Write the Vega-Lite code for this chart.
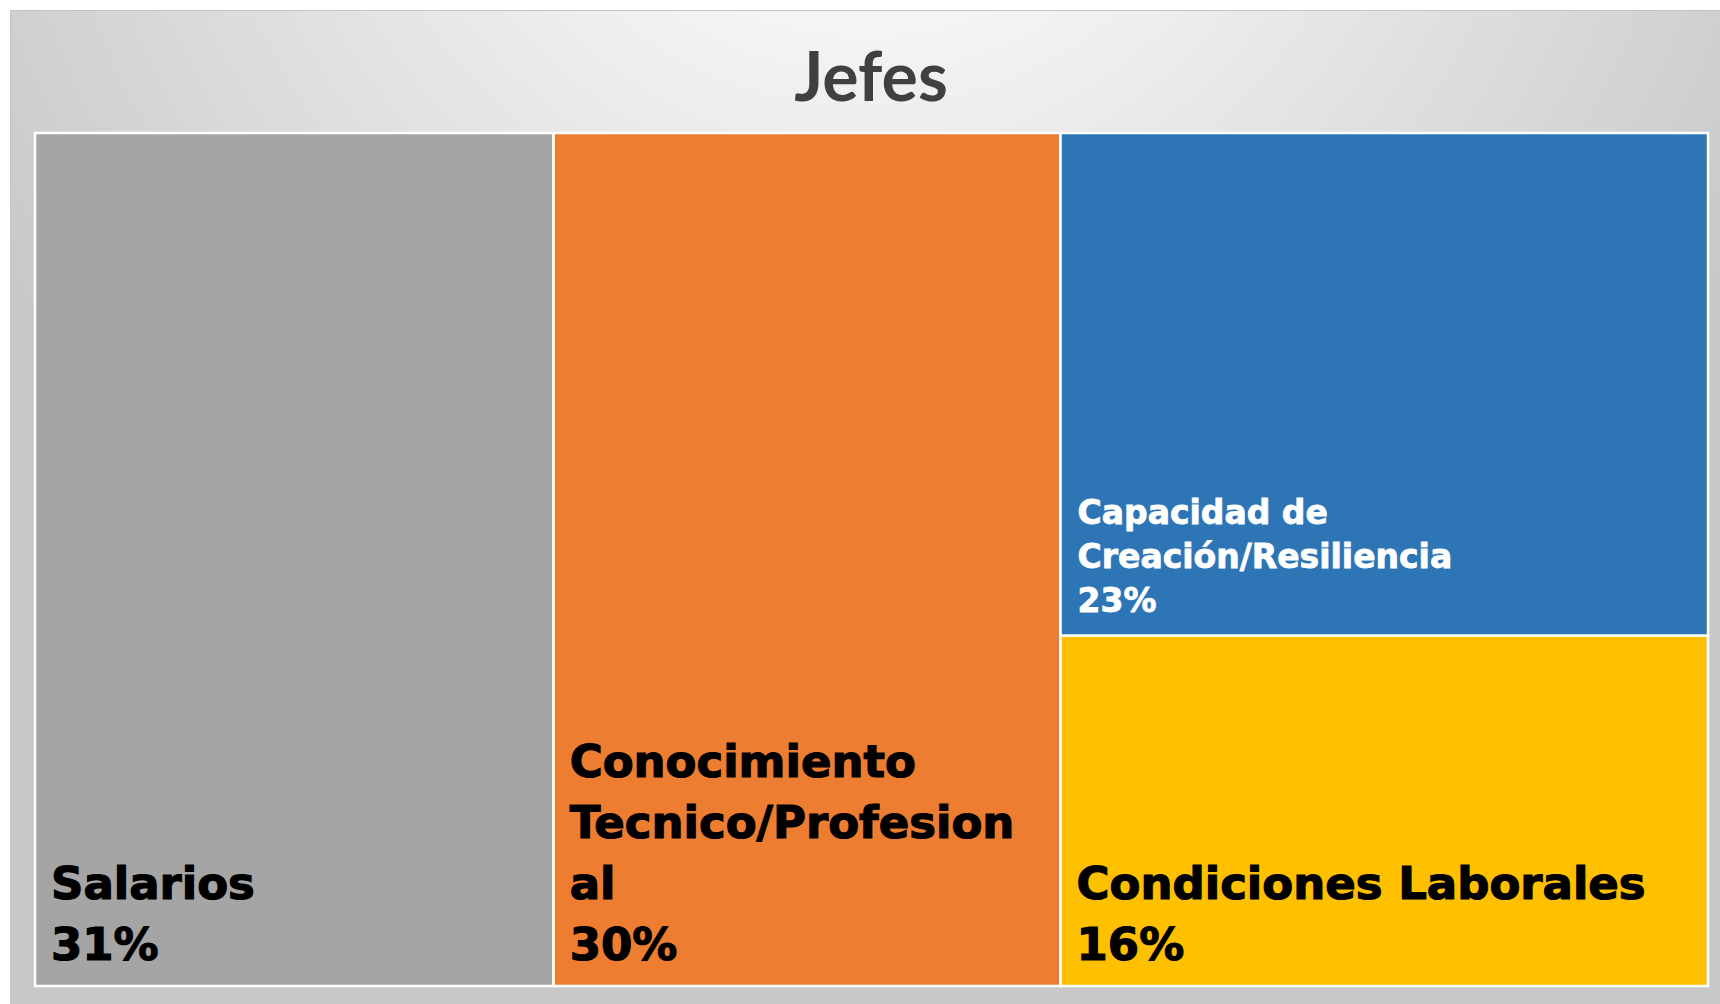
{
  "$schema": "https://vega.github.io/schema/vega-lite/v6.json",
  "width": 1710,
  "height": 994,
  "autosize": {"type": "none"},
  "padding": {"left": 10, "top": 10, "right": 0, "bottom": 0},
  "background": "white",
  "view": {
    "fill": {
      "gradient": "radial",
      "x1": 0.5, "y1": 0.04, "r1": 0,
      "x2": 0.5, "y2": 0.04, "r2": 0.6,
      "stops": [
        {"offset": 0, "color": "#ffffff"},
        {"offset": 0.3, "color": "#f4f4f4"},
        {"offset": 1, "color": "#c8c8c8"}
      ]
    },
    "stroke": "#c4c4c4",
    "strokeWidth": 1
  },
  "title": {
    "text": "Jefes",
    "font": "Lato",
    "fontSize": 68,
    "fontWeight": "bold",
    "color": "#404040",
    "anchor": "middle",
    "frame": "group",
    "offset": -105,
    "dx": 6
  },
  "data": {
    "values": [
      {"category": "Salarios", "value": 31, "group": 1, "rank": 1, "label": ["Salarios", "31%"]},
      {"category": "Conocimiento Tecnico/Profesional", "value": 30.3, "group": 2, "rank": 1, "label": ["Conocimiento", "Tecnico/Profesion", "al", "30%"]},
      {"category": "Condiciones Laborales", "value": 15.9, "group": 3, "rank": 1, "label": ["Condiciones Laborales", "16%"]},
      {"category": "Capacidad de Creación/Resiliencia", "value": 22.8, "group": 3, "rank": 2, "label": ["Capacidad de", "Creación/Resiliencia", "23%"]}
    ]
  },
  "transform": [
    {"stack": "value", "groupby": ["group"], "offset": "normalize", "sort": [{"field": "rank", "order": "ascending"}], "as": ["y0", "y1"]},
    {"stack": "value", "groupby": [], "sort": [{"field": "group", "order": "ascending"}, {"field": "rank", "order": "ascending"}], "as": ["s0", "s1"]},
    {"joinaggregate": [{"op": "min", "field": "s0", "as": "x0"}, {"op": "max", "field": "s1", "as": "x1"}], "groupby": ["group"]}
  ],
  "layer": [
    {
      "mark": {"type": "rect", "stroke": "white", "strokeWidth": 2.5},
      "encoding": {
        "x": {"field": "x0", "type": "quantitative", "scale": {"domain": [-1.494, 100.717], "nice": false, "zero": false}, "axis": null},
        "x2": {"field": "x1"},
        "y": {"field": "y0", "type": "quantitative", "scale": {"domain": [-0.0211, 1.1442], "nice": false, "zero": false}, "axis": null},
        "y2": {"field": "y1"},
        "color": {
          "field": "category",
          "type": "nominal",
          "scale": {
            "domain": ["Salarios", "Conocimiento Tecnico/Profesional", "Capacidad de Creación/Resiliencia", "Condiciones Laborales"],
            "range": ["#A5A5A5", "#ED7D31", "#2E75B6", "#FFC000"]
          },
          "legend": null
        }
      }
    },
    {
      "transform": [{"filter": "datum.category !== 'Capacidad de Creación/Resiliencia'"}],
      "mark": {"type": "text", "align": "left", "baseline": "bottom", "dx": 16, "dy": {"expr": "-17 - (length(datum.label) - 1) * 61"}, "font": "DejaVu Sans", "fontWeight": "bold", "fontSize": 45, "lineHeight": 61, "color": "#000000", "stroke": "#000000", "strokeWidth": 1.2},
      "encoding": {
        "x": {"field": "x0", "type": "quantitative"},
        "y": {"field": "y0", "type": "quantitative"},
        "text": {"field": "label"}
      }
    },
    {
      "transform": [{"filter": "datum.category === 'Capacidad de Creación/Resiliencia'"}],
      "mark": {"type": "text", "align": "left", "baseline": "bottom", "dx": 17, "dy": {"expr": "-17 - (length(datum.label) - 1) * 44"}, "font": "DejaVu Sans", "fontWeight": "bold", "fontSize": 33, "lineHeight": 44, "color": "#ffffff", "stroke": "#ffffff", "strokeWidth": 0.8},
      "encoding": {
        "x": {"field": "x0", "type": "quantitative"},
        "y": {"field": "y0", "type": "quantitative"},
        "text": {"field": "label"}
      }
    }
  ]
}
